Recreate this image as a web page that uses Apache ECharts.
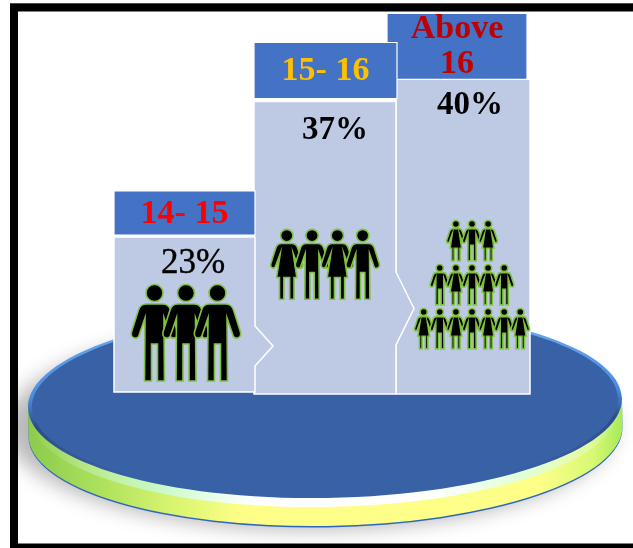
<!DOCTYPE html>
<html>
<head>
<meta charset="utf-8">
<style>html,body{margin:0;padding:0;background:#fff}#chart{width:633px;height:548px}</style>
<script src="https://cdn.jsdelivr.net/npm/echarts@6/dist/echarts.min.js"></script>
</head>
<body>
<div id="chart"></div>
<script>
// Age bands and their shares
const categories = ['14- 15', '15- 16', 'Above\n16'];
const shares = [23, 37, 40];
// Who stands on each step: M = man, W = woman, one string per row
const peopleRows = [['MMM'], ['WMWM'], ['WMW', 'MWMWM', 'WMWMWMW']];

// Step appearance
const headerColors = ['#FF0000', '#FFC000', '#C00000'];
const headerHeights = [44, 56, 66];
const headerGaps = [2, 3, 0];
const bodyTrim = [[0, 1, 0], [0, 2, 2], [2, -4, 2]];       // left, right, bottom
const headerTrim = [[0, 1], [0, 3], [-7, -7]];             // left, right
const arrows = [[26, 66, 18], [49, 122, 18], null];        // from base: lower, upper, tip length
const labelOffset = [[9, 27], [11, 29], [6, 26]];          // dx, dy from body's top centre
const iconLayout = [
  {dx: 2, top: [47], h: 98, gap: 31.5},
  {dx: 0.7, top: [127.5], h: 71, gap: 25.3},
  {dx: 8, top: [141, 185, 229], h: 41, gap: 16.1}
];

const MAN = 'M-8 20L8 20Q14 20 16 26L23 48Q24 53 20 54Q16 55 15 50L9.5 34L10 97L3 97L3 60L-3 60L-3 97L-10 97L-9.5 34L-15 50Q-16 55 -20 54Q-24 53 -23 48L-16 26Q-14 20 -8 20ZM-8.5 9A8.5 8.5 0 1 0 8.5 9A8.5 8.5 0 1 0 -8.5 9Z';
const WOMAN = 'M-7 20L7 20Q13 20 15 26L22 48Q23 53 19 54Q16 54 15 50L9 34L14 67L10 67L10 97L4 97L4 67L-4 67L-4 97L-10 97L-10 67L-14 67L-9 34L-15 50Q-16 54 -19 54Q-23 53 -22 48L-15 26Q-13 20 -7 20ZM-8.5 9A8.5 8.5 0 1 0 8.5 9A8.5 8.5 0 1 0 -8.5 9Z';
const SERIF = '"Liberation Serif", "DejaVu Serif", serif';

function renderStep(params, api) {
  const i = api.value(0);
  const top = api.coord([i, api.value(1)]);
  const band = api.size([1, 0])[0];
  const base = api.coord([i, 13.35])[1] + bodyTrim[i][2];
  const left = top[0] - band / 2 + bodyTrim[i][0];
  const right = top[0] + band / 2 + bodyTrim[i][1];
  const y = top[1];

  // Body outline, with an arrow on the right when the next step follows
  const pts = [[left, y], [right, y]];
  if (arrows[i]) {
    const [lo, hi, tip] = arrows[i];
    pts.push([right, base - hi], [right + tip, base - (lo + hi) / 2], [right, base - lo]);
  }
  pts.push([right, base], [left, base]);
  const children = [{
    type: 'polygon',
    shape: {points: pts},
    style: {fill: '#BEC9E4', stroke: '#fff', lineWidth: 1.5}
  }];

  // Header
  const hLeft = top[0] - band / 2 + headerTrim[i][0];
  const hRight = top[0] + band / 2 + headerTrim[i][1];
  const hBottom = y - headerGaps[i];
  const hTop = hBottom - headerHeights[i];
  children.push({
    type: 'rect',
    shape: {x: hLeft, y: hTop, width: hRight - hLeft, height: hBottom - hTop},
    style: {fill: '#4472C4', stroke: '#fff', lineWidth: 1.2}
  });
  children.push({
    type: 'text',
    style: {
      text: categories[i],
      x: (hLeft + hRight) / 2,
      y: (hTop + hBottom) / 2 + (i === 2 ? 0 : 1),
      fill: headerColors[i],
      font: 'bold 34px ' + SERIF,
      lineHeight: 35,
      align: 'center',
      verticalAlign: 'middle'
    }
  });

  // Share label
  children.push({
    type: 'text',
    style: {
      text: shares[i] + '%',
      x: top[0] + labelOffset[i][0],
      y: y + labelOffset[i][1],
      fill: '#000',
      stroke: '#000',
      lineWidth: i === 0 ? 0.4 : 0,
      font: (i === 0 ? '35px ' : 'bold 33px ') + SERIF,
      align: 'center',
      verticalAlign: 'middle'
    }
  });

  // Rows of people
  const lay = iconLayout[i];
  const s = lay.h / 98;
  peopleRows[i].forEach((row, r) => {
    const n = row.length;
    for (let k = 0; k < n; k++) {
      children.push({
        type: 'path',
        x: top[0] + lay.dx + (k - (n - 1) / 2) * lay.gap,
        y: y + lay.top[r],
        scaleX: s,
        scaleY: s,
        shape: {pathData: row[k] === 'M' ? MAN : WOMAN},
        style: {fill: '#000', stroke: '#7FC241', lineWidth: 1.6 / s}
      });
    }
  });
  return {type: 'group', children};
}

// Platform beneath the steps
const cx = 325, cy = 403, rx = 297, ry = 95, rimDepth = 28;
const rimPath = `M${cx - rx} ${cy}L${cx - rx} ${cy + rimDepth}A${rx} ${ry} 0 0 0 ${cx + rx} ${cy + rimDepth}L${cx + rx} ${cy}Z`;

function renderPlatform() {
  return {
    type: 'group',
    children: [
      {
        type: 'ellipse',
        shape: {cx: 310 - 1000, cy: 427, rx: 305, ry: 103},
        style: {fill: '#000', shadowColor: 'rgba(0,0,0,0.28)', shadowBlur: 20, shadowOffsetX: 1000}
      },
      {
        type: 'group',
        originX: cx, originY: cy, rotation: 0.016,
        children: [
          {type: 'path', y: 1.5, shape: {pathData: rimPath}, style: {fill: '#2E66BE'}},
          {type: 'path', shape: {pathData: rimPath}, style: {fill: {
            type: 'linear', x: 0, y: 0, x2: 1, y2: 0,
            colorStops: [
              {offset: 0, color: '#8CCB4C'}, {offset: 0.1, color: '#A6DE5A'},
              {offset: 0.24, color: '#D8F470'}, {offset: 0.36, color: '#FFFF88'},
              {offset: 0.86, color: '#FDFF88'}, {offset: 0.95, color: '#D8F874'},
              {offset: 1, color: '#A6EA58'}
            ]
          }}},
          {type: 'ellipse', shape: {cx, cy: cy + 9, rx: rx - 2, ry}, style: {fill: {
            type: 'linear', x: 0, y: 0, x2: 1, y2: 0,
            colorStops: [
              {offset: 0, color: 'rgba(255,255,255,0)'}, {offset: 0.2, color: 'rgba(190,255,250,0.6)'},
              {offset: 0.38, color: '#fff'}, {offset: 0.68, color: '#fff'},
              {offset: 0.86, color: 'rgba(210,255,240,0.7)'}, {offset: 1, color: 'rgba(255,255,255,0)'}
            ]
          }}},
          {type: 'ellipse', shape: {cx, cy, rx, ry}, style: {fill: {
            type: 'linear', x: 0, y: 0, x2: 0, y2: 1,
            colorStops: [
              {offset: 0, color: '#6FB0F5'}, {offset: 0.45, color: '#4C8BDF'},
              {offset: 0.6, color: '#2C4D88'}, {offset: 0.88, color: '#3961A6'},
              {offset: 1, color: '#3961A6'}
            ]
          }}},
          {type: 'ellipse', shape: {cx, cy, rx: rx - 4, ry: ry - 2.5}, style: {fill: '#3961A6'}}
        ]
      }
    ]
  };
}

// Picture frame, open on the right, with a white margin on its left
function renderFrame() {
  return {
    type: 'group',
    children: [
      {type: 'rect', shape: {x: 0, y: 0, width: 10, height: 548}, style: {fill: '#fff'}},
      {type: 'rect', shape: {x: 10, y: 3, width: 640, height: 1}, style: {fill: '#999'}},
      {type: 'rect', shape: {x: 14, y: 7.5, width: 700, height: 540}, style: {fill: 'none', stroke: '#000', lineWidth: 8}}
    ]
  };
}

const chart = echarts.init(document.getElementById('chart'), null, {renderer: 'canvas'});
chart.setOption({
  animation: false,
  backgroundColor: '#fff',
  tooltip: {show: false},
  grid: {left: 114, width: 420, top: 15.7, height: 376.3},
  xAxis: {type: 'category', data: categories, show: false},
  yAxis: {type: 'log', min: 13.35, max: 50, show: false},
  series: [
    {type: 'custom', z: 1, clip: false, silent: true, renderItem: renderPlatform, coordinateSystem: 'none', data: [[0]]},
    {
      type: 'custom',
      z: 3,
      clip: false,
      silent: true,
      renderItem: renderStep,
      encode: {x: 0, y: 1},
      // Later steps are laid down first so the earlier arrows overlap them
      data: shares.map((v, i) => [i, v]).reverse()
    },
    {type: 'custom', z: 5, clip: false, silent: true, renderItem: renderFrame, coordinateSystem: 'none', data: [[0]]}
  ]
});
</script>
</body>
</html>
